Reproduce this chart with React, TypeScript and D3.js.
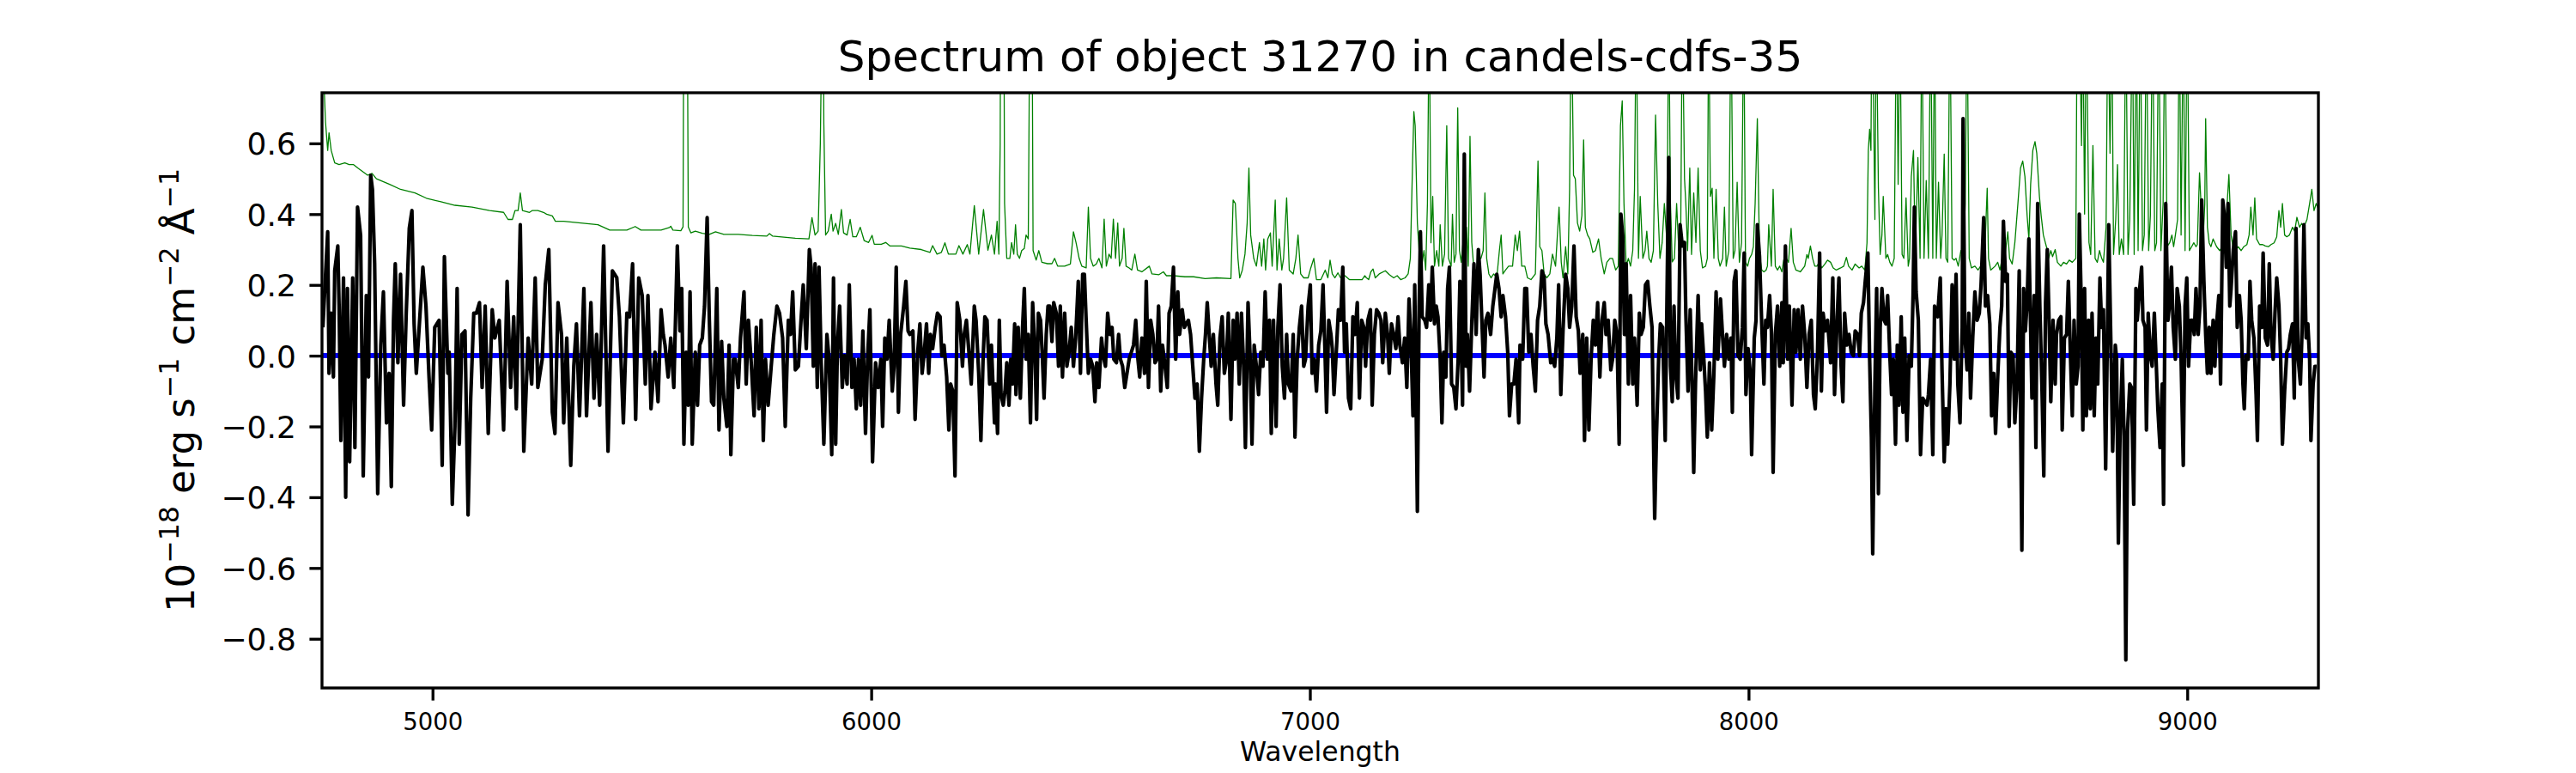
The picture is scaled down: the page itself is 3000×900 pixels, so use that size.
import React, { useEffect, useRef } from 'react';
import * as d3 from 'd3';

type Point = [number, number]; // [wavelength in Angstrom, flux in 1e-18 erg/s/cm2/A]

const fluxA: Point[] = [
    [4750, 0.08], [4761, 0.35], [4764, -0.05], [4769, 0.12], [4774, -0.06], [4777, 0.24], [4784, 0.31], [4787, 0.14], [4791, -0.24], [4797, 0.22],
    [4802, -0.4], [4806, 0.19], [4811, -0.3], [4818, 0.22], [4823, -0.26], [4829, 0.42], [4836, 0.34], [4842, -0.34], [4849, 0.17], [4854, -0.06],
    [4859, 0.51], [4863, 0.47], [4868, 0.26], [4875, -0.39], [4882, 0.03], [4888, 0.18], [4895, -0.19], [4901, -0.05], [4906, -0.37], [4911, 0.1],
    [4915, 0.26], [4921, -0.02], [4927, 0.23], [4934, -0.14], [4940, 0.12], [4947, 0.36], [4953, 0.41], [4958, 0.09], [4963, -0.05], [4970, 0.09],
    [4978, 0.25], [4985, 0.14], [4992, -0.06], [4998, -0.21], [5005, 0.08], [5015, 0.1], [5022, -0.31], [5027, 0.28], [5035, -0.05], [5038, 0.01],
    [5045, -0.42], [5051, -0.2], [5056, 0.19], [5061, -0.25], [5067, 0.06], [5074, 0.07], [5081, -0.45], [5087, -0.12], [5094, 0.12], [5100, 0.12],
    [5107, 0.15], [5113, -0.09], [5120, 0.14], [5127, -0.22], [5136, 0.13], [5142, 0.05], [5152, 0.1], [5162, -0.21], [5170, 0.21], [5178, -0.09],
    [5185, 0.11], [5191, -0.15], [5200, 0.37], [5208, -0.27], [5218, 0.05], [5226, -0.08], [5234, 0.22], [5240, -0.09], [5250, -0.01], [5257, 0.2],
    [5265, 0.3], [5273, -0.16], [5279, -0.22], [5286, 0.15], [5294, 0.06], [5299, -0.19], [5306, 0.05], [5315, -0.31], [5322, -0.03], [5328, 0.09],
    [5335, -0.17], [5345, 0.19], [5351, -0.17], [5361, 0.15], [5368, -0.12], [5374, 0.06], [5381, -0.14], [5390, 0.31], [5400, -0.27], [5410, 0.24],
    [5420, 0.22], [5426, 0.11], [5435, -0.19], [5443, 0.12], [5449, 0.11], [5456, 0.26], [5463, -0.18], [5470, 0.22], [5478, 0.17], [5485, -0.08],
    [5491, 0.17], [5498, -0.15], [5507, 0.01], [5514, -0.13], [5521, 0.13]
];

const fluxB: Point[] = [
    [5526, 0.06], [5530, 0.03], [5537, -0.06], [5543, 0.05], [5550, -0.09], [5558, 0.31], [5564, 0.07], [5568, 0.19], [5573, -0.25], [5578, 0.01],
    [5583, -0.14], [5587, 0.18], [5592, -0.25], [5599, 0.01], [5604, -0.14], [5609, 0.03], [5615, 0.05], [5620, 0.14], [5626, 0.39], [5631, 0.1],
    [5636, -0.13], [5641, -0.14], [5648, 0.19], [5653, -0.21], [5659, 0.04], [5664, -0.12], [5671, -0.2], [5676, 0.03], [5680, -0.28], [5686, -0.01],
    [5690, -0.01], [5697, -0.09], [5702, 0.05], [5710, 0.18], [5715, -0.08], [5720, 0.1], [5726, -0.01], [5733, -0.17], [5738, 0.08], [5744, -0.15],
    [5749, 0.1], [5754, -0.24], [5759, -0.01], [5765, -0.14], [5772, -0.03], [5778, 0.06], [5785, 0.14], [5791, 0.12], [5798, 0.05], [5804, -0.2],
    [5811, 0.1], [5816, 0.06], [5821, 0.18], [5827, -0.04], [5834, -0.03], [5840, 0.1], [5845, 0.2], [5852, 0.02], [5859, 0.3], [5863, 0.25],
    [5868, -0.03], [5872, 0.26], [5877, -0.09], [5881, 0.25], [5886, -0.02], [5892, -0.25], [5899, 0.06], [5904, -0.01], [5910, -0.28], [5914, 0.22],
    [5919, -0.25], [5923, 0.03], [5928, 0.14], [5934, -0.09], [5939, 0.0], [5945, -0.08], [5950, 0.2], [5956, -0.09], [5961, -0.01], [5966, -0.15],
    [5971, -0.01], [5976, -0.14], [5981, 0.07], [5987, -0.22], [5992, 0.0], [5997, 0.13], [6003, -0.3], [6010, -0.02], [6016, -0.09], [6022, -0.01],
    [6026, -0.2], [6031, 0.05], [6036, -0.01], [6041, 0.1], [6048, -0.1], [6052, -0.03], [6057, 0.25], [6062, -0.16], [6067, 0.06], [6074, 0.14],
    [6079, 0.21], [6084, 0.07], [6088, 0.06], [6095, 0.07], [6100, -0.18], [6106, 0.01], [6111, 0.09], [6116, -0.05], [6121, 0.01], [6126, 0.09],
    [6131, -0.05], [6135, 0.06], [6140, 0.02], [6146, 0.08], [6151, 0.12], [6157, 0.11], [6161, 0.0], [6166, 0.03], [6172, -0.06], [6177, -0.21],
    [6181, -0.08], [6186, -0.1], [6191, -0.34], [6196, 0.15], [6202, 0.1], [6208, -0.03], [6212, 0.06], [6217, 0.1], [6224, -0.01], [6228, -0.08],
    [6235, 0.14], [6239, 0.1], [6245, -0.05], [6250, -0.24], [6255, -0.01], [6259, 0.11], [6264, 0.1], [6270, -0.08], [6274, 0.03], [6281, -0.19]
];

const fluxC: Point[] = [
    [6283, -0.08], [6288, -0.22], [6292, 0.1], [6296, -0.11], [6301, -0.14], [6305, -0.1], [6309, -0.02], [6314, -0.14], [6318, -0.01], [6322, -0.08],
    [6327, 0.09], [6330, -0.11], [6335, 0.08], [6340, -0.12], [6345, 0.08], [6349, 0.19], [6353, -0.01], [6358, 0.06], [6363, -0.19], [6368, 0.15],
    [6373, 0.02], [6377, -0.18], [6381, 0.12], [6386, 0.1], [6390, 0.0], [6394, -0.12], [6399, 0.06], [6403, 0.14], [6407, 0.14], [6412, 0.04],
    [6416, 0.15], [6422, 0.12], [6427, -0.03], [6431, 0.14], [6436, -0.06], [6441, 0.12], [6446, -0.03], [6451, 0.01], [6456, 0.08], [6461, -0.03],
    [6466, 0.05], [6472, 0.21], [6477, -0.05], [6482, 0.23], [6486, 0.23], [6490, 0.1], [6495, -0.05], [6500, -0.01], [6505, -0.03], [6510, -0.13],
    [6514, -0.02], [6519, -0.09], [6525, 0.05], [6529, 0.0], [6534, -0.03], [6539, 0.12], [6544, 0.06], [6549, 0.08], [6553, -0.01], [6559, -0.02],
    [6564, 0.06], [6568, -0.01], [6573, -0.03], [6578, -0.09], [6583, -0.05], [6588, -0.01], [6593, 0.01], [6598, 0.03], [6603, 0.1], [6608, -0.01],
    [6612, -0.06], [6617, 0.05], [6623, -0.05], [6627, 0.21], [6632, -0.09], [6637, 0.1], [6642, 0.06], [6647, -0.02], [6651, -0.01], [6655, 0.14],
    [6660, -0.1], [6664, 0.03], [6669, -0.02], [6675, -0.09], [6679, 0.12], [6684, 0.14], [6689, 0.25], [6694, -0.01], [6699, 0.18], [6703, 0.06],
    [6709, 0.13], [6714, 0.08], [6718, 0.09], [6723, 0.1], [6728, 0.06], [6733, -0.03], [6738, -0.12], [6743, -0.08], [6748, -0.27], [6753, -0.12],
    [6758, -0.01], [6762, 0.06], [6766, 0.15], [6771, 0.05], [6775, -0.03], [6780, 0.06], [6786, -0.08], [6790, -0.14], [6795, 0.05], [6800, 0.11],
    [6805, -0.05], [6810, -0.01], [6814, 0.12], [6820, -0.18], [6825, 0.1], [6829, -0.01], [6834, 0.12], [6839, -0.08], [6844, 0.12], [6849, -0.03],
    [6853, -0.26], [6859, 0.15], [6864, -0.01], [6868, -0.25], [6873, 0.03], [6878, -0.03], [6883, -0.11], [6888, 0.01], [6893, -0.03], [6898, 0.18],
    [6903, -0.01], [6908, 0.1], [6912, -0.22], [6917, 0.1], [6923, -0.2], [6927, 0.08], [6932, 0.2], [6937, -0.03], [6942, -0.12], [6947, 0.06],
    [6951, -0.08], [6957, -0.1], [6962, 0.06], [6966, -0.23], [6971, -0.01], [6976, 0.08], [6981, 0.14], [6986, -0.03], [6990, -0.01], [6996, 0.14],
    [7001, 0.2], [7005, -0.05], [7010, -0.01], [7015, -0.1], [7020, 0.03], [7025, 0.07], [7030, 0.2], [7034, 0.03], [7038, -0.16], [7043, 0.1],
    [7048, 0.06]
];

const fluxD: Point[] = [
    [7051, 0.02], [7055, -0.11], [7061, 0.03], [7065, 0.13], [7070, 0.1], [7075, 0.25], [7079, 0.01], [7083, 0.09], [7088, -0.12],
    [7093, -0.15], [7098, 0.11], [7103, 0.06], [7108, 0.15], [7113, -0.12], [7118, 0.1], [7123, 0.08], [7127, -0.03], [7132, 0.1], [7138, 0.13],
    [7142, -0.14], [7147, 0.06], [7152, 0.13], [7157, 0.12], [7162, 0.1], [7166, -0.02], [7172, 0.12], [7177, 0.06], [7181, -0.05], [7186, 0.09],
    [7191, 0.06], [7196, 0.02], [7201, 0.11], [7205, 0.03], [7211, -0.02], [7216, 0.05], [7221, -0.09], [7226, 0.16], [7230, 0.06], [7235, -0.17],
    [7239, 0.2], [7245, -0.44], [7249, 0.14], [7252, 0.35], [7256, 0.11], [7262, 0.1], [7266, 0.08], [7271, 0.2], [7275, 0.1], [7279, 0.25],
    [7284, 0.09], [7288, 0.14], [7292, 0.11], [7297, -0.01], [7301, -0.19], [7305, 0.01], [7310, -0.06], [7314, 0.19], [7318, 0.25], [7323, -0.08],
    [7328, -0.09], [7333, -0.15], [7338, -0.01], [7342, 0.21], [7348, -0.14], [7352, 0.57], [7356, -0.03], [7359, 0.06], [7364, -0.1], [7369, 0.09],
    [7374, 0.26], [7379, 0.06], [7384, 0.3], [7388, 0.23], [7392, 0.1], [7397, -0.06], [7401, 0.1], [7406, 0.12], [7412, 0.06], [7417, 0.14],
    [7421, 0.18], [7426, 0.23], [7431, 0.19], [7436, 0.11], [7440, 0.17], [7446, 0.11], [7451, 0.01], [7455, -0.17], [7460, -0.08], [7465, -0.08],
    [7470, -0.01], [7476, -0.19], [7479, 0.03], [7485, -0.01], [7490, 0.19], [7494, 0.19], [7499, 0.01], [7504, 0.06], [7509, -0.03], [7514, -0.1],
    [7519, 0.1], [7524, 0.14], [7529, 0.24], [7534, 0.22], [7538, 0.09], [7543, 0.06], [7549, -0.02], [7553, -0.01], [7558, -0.03], [7563, 0.05],
    [7567, 0.2], [7572, -0.11], [7577, 0.07], [7583, 0.23], [7588, 0.19], [7592, 0.08], [7597, 0.14], [7602, 0.31], [7607, 0.11], [7612, 0.07],
    [7616, -0.05], [7622, 0.06], [7626, -0.24], [7631, 0.05], [7636, -0.21], [7641, -0.01], [7646, 0.1], [7651, 0.03], [7656, 0.15], [7661, -0.06],
    [7666, 0.1], [7671, 0.15], [7675, 0.06], [7680, 0.1], [7686, -0.04], [7690, -0.01], [7695, 0.1], [7700, 0.06], [7705, -0.25], [7709, 0.4],
    [7713, 0.34], [7717, 0.06], [7721, 0.26], [7726, -0.08], [7731, 0.17], [7736, -0.08], [7740, 0.05], [7746, -0.14], [7751, 0.12], [7755, 0.06],
    [7760, 0.08], [7765, 0.2], [7770, 0.21], [7775, 0.14], [7780, 0.08], [7783, -0.21], [7786, -0.46], [7790, -0.23], [7795, -0.01], [7799, 0.09],
    [7804, 0.08], [7810, -0.24]
];

const fluxE: Point[] = [
    [7818, 0.56], [7822, -0.03], [7826, -0.13], [7830, 0.14], [7834, -0.05], [7839, -0.12], [7844, 0.37], [7849, 0.31],
    [7854, 0.32], [7857, 0.12], [7862, -0.1], [7867, 0.13], [7870, -0.01], [7875, -0.33], [7879, -0.08], [7885, 0.17], [7890, -0.04], [7893, 0.09],
    [7898, -0.01], [7902, -0.1], [7906, -0.23], [7911, -0.02], [7916, -0.21], [7921, -0.05], [7926, 0.18], [7930, -0.01], [7936, 0.16], [7941, 0.05],
    [7945, -0.03], [7950, 0.06], [7955, -0.01], [7960, 0.05], [7963, -0.16], [7967, 0.21], [7971, 0.24], [7976, 0.0], [7981, -0.01], [7986, 0.08],
    [7990, 0.29], [7994, -0.11], [7999, 0.02], [8004, -0.05], [8007, -0.28], [8013, 0.05], [8017, 0.1], [8020, 0.37], [8025, 0.28], [8030, 0.09],
    [8035, -0.08], [8039, 0.1], [8043, 0.08], [8048, 0.17], [8052, 0.07], [8056, -0.33], [8061, 0.06], [8066, 0.14], [8071, -0.03], [8076, 0.15],
    [8079, -0.02], [8084, 0.31], [8089, -0.01], [8093, 0.14], [8099, -0.14], [8104, 0.13], [8108, 0.01], [8113, 0.13], [8118, -0.01], [8123, 0.14],
    [8128, 0.06], [8133, -0.09], [8138, 0.06], [8143, 0.1], [8148, -0.11], [8152, -0.15], [8157, 0.0], [8162, 0.29], [8166, -0.1], [8170, 0.12],
    [8175, 0.07], [8180, 0.1], [8183, 0.05], [8187, -0.02], [8192, 0.22], [8196, -0.11], [8202, 0.11], [8206, 0.22], [8211, -0.03], [8215, -0.13],
    [8219, 0.12], [8224, 0.03], [8229, 0.06], [8234, 0.01], [8239, 0.0], [8243, 0.07], [8249, 0.06], [8253, 0.0], [8257, 0.12], [8262, 0.15],
    [8266, 0.21], [8272, 0.29], [8276, -0.01], [8280, -0.23], [8283, -0.56], [8288, -0.08], [8292, 0.19], [8296, -0.39], [8300, 0.08], [8304, 0.19],
    [8309, 0.1], [8313, 0.09], [8317, 0.17], [8322, 0.0], [8326, -0.11], [8330, -0.01], [8335, -0.25], [8339, 0.03], [8343, -0.14], [8348, 0.11],
    [8352, -0.16], [8356, 0.05], [8361, -0.24], [8366, 0.0], [8371, -0.03], [8375, 0.17], [8378, 0.42], [8382, 0.18], [8387, 0.1], [8392, -0.28],
    [8397, -0.12], [8402, -0.13], [8407, -0.14], [8410, -0.11], [8415, -0.01], [8420, -0.28], [8424, 0.14], [8428, 0.12], [8431, 0.11], [8437, 0.22],
    [8441, -0.04], [8446, -0.3], [8450, -0.15], [8454, -0.25], [8459, -0.08], [8464, 0.2], [8469, -0.01], [8473, 0.23], [8477, -0.08], [8482, -0.19],
    [8487, 0.08], [8489, 0.67], [8493, 0.06], [8498, -0.04], [8502, 0.12], [8506, -0.12], [8511, 0.05], [8516, 0.18], [8521, 0.1], [8526, 0.12],
    [8530, 0.2], [8536, 0.39], [8540, 0.14], [8545, 0.17], [8550, 0.09], [8554, -0.17], [8559, -0.05], [8563, -0.22], [8568, -0.06], [8573, 0.08]
];

const fluxF: Point[] = [
    [8577, 0.14], [8581, 0.38], [8586, 0.21], [8590, 0.23], [8594, -0.2], [8598, 0.01], [8603, 0.0], [8607, -0.19], [8612, -0.08],
    [8617, 0.24], [8620, -0.17], [8623, -0.55], [8627, 0.19], [8631, 0.07], [8635, 0.15], [8639, 0.33], [8642, 0.14], [8646, -0.12], [8651, 0.17],
    [8655, -0.26], [8659, 0.43], [8664, 0.14], [8669, -0.1], [8673, -0.34], [8677, 0.15], [8681, 0.3], [8685, 0.1], [8689, -0.13], [8694, 0.1],
    [8699, -0.08], [8702, 0.06], [8707, 0.1], [8712, 0.11], [8715, -0.21], [8720, 0.05], [8725, 0.06], [8729, 0.21], [8734, -0.01], [8738, -0.17],
    [8742, 0.1], [8747, -0.08], [8751, -0.03], [8754, 0.4], [8758, 0.17], [8762, -0.21], [8766, 0.19], [8770, -0.17], [8775, 0.1], [8779, -0.15],
    [8783, 0.12], [8788, -0.17], [8792, 0.05], [8796, -0.08], [8801, 0.22], [8805, 0.08], [8809, 0.13], [8814, -0.32], [8818, 0.06], [8821, 0.37],
    [8826, 0.03], [8830, -0.27], [8836, 0.03], [8839, -0.01], [8843, -0.53], [8847, -0.21], [8852, -0.01], [8856, -0.23], [8860, -0.86], [8864, -0.21],
    [8869, -0.08], [8873, -0.09], [8878, -0.42], [8883, 0.19], [8886, 0.1], [8891, 0.18], [8896, 0.25], [8899, 0.1], [8904, 0.08], [8907, -0.21],
    [8911, 0.12], [8916, 0.0], [8920, -0.03], [8925, 0.12], [8929, -0.01], [8933, -0.15], [8938, -0.26], [8943, -0.08], [8946, -0.42], [8951, 0.43],
    [8956, 0.1], [8960, 0.15], [8964, 0.25], [8968, 0.08], [8973, -0.01], [8977, 0.19], [8982, 0.14], [8986, -0.01], [8991, -0.31], [8995, 0.14],
    [8999, 0.22], [9003, -0.03], [9008, 0.1], [9012, 0.1], [9016, 0.06], [9020, 0.19], [9025, 0.06], [9029, 0.14], [9033, 0.44], [9038, 0.21],
    [9042, 0.06], [9046, -0.05], [9050, 0.08], [9054, -0.05], [9059, 0.1], [9063, -0.03], [9067, 0.09], [9072, 0.17], [9076, -0.08], [9081, 0.44],
    [9085, 0.39], [9089, 0.25], [9093, 0.43], [9097, 0.14], [9100, 0.19], [9105, 0.3], [9110, 0.35], [9114, 0.08], [9119, 0.17], [9123, 0.1],
    [9127, -0.08], [9130, -0.15], [9134, 0.0], [9139, -0.01], [9143, 0.21], [9147, 0.1], [9152, 0.05], [9157, -0.11], [9160, -0.24], [9165, 0.14],
    [9170, 0.08], [9173, 0.29], [9178, 0.05], [9183, 0.03], [9187, 0.26], [9191, 0.06], [9196, -0.01], [9200, 0.12], [9204, 0.22], [9209, 0.14],
    [9213, -0.01], [9217, -0.25], [9222, -0.1], [9227, 0.01], [9231, 0.02], [9235, 0.06], [9240, 0.09], [9244, -0.12], [9248, 0.36], [9253, -0.01],
    [9258, -0.08], [9262, 0.08], [9266, 0.37], [9271, 0.05], [9275, 0.09], [9279, -0.01], [9282, -0.24], [9287, -0.08], [9291, -0.03], [9295, -0.03]
];

// Noise / sky spectrum (green); values above the axis top are sky lines that get clipped
const noiseA: Point[] = [
    [4750, 0.85], [4756, 0.66], [4761, 0.58], [4764, 0.63], [4769, 0.58], [4777, 0.545], [4787, 0.54], [4800, 0.545], [4810, 0.54], [4820, 0.54],
    [4830, 0.53], [4852, 0.51], [4862, 0.515], [4872, 0.5], [4901, 0.485], [4927, 0.47], [4960, 0.46], [4986, 0.445], [5019, 0.435], [5051, 0.425],
    [5090, 0.42], [5130, 0.41], [5162, 0.405], [5172, 0.385], [5182, 0.385], [5188, 0.41], [5195, 0.41], [5200, 0.46], [5205, 0.41], [5221, 0.405],
    [5227, 0.41], [5240, 0.41], [5253, 0.405], [5260, 0.4], [5273, 0.395], [5280, 0.38], [5299, 0.38], [5338, 0.375], [5377, 0.37], [5404, 0.355],
    [5443, 0.355], [5462, 0.365], [5475, 0.355]
];

const noiseB: Point[] = [
    [5521, 0.355], [5540, 0.362], [5543, 0.366], [5548, 0.355], [5566, 0.353], [5571, 0.364], [5574, 1.5], [5579, 1.5], [5583, 0.364], [5589, 0.347],
    [5599, 0.352], [5615, 0.346], [5631, 0.343], [5645, 0.35], [5664, 0.343], [5697, 0.343], [5729, 0.34], [5762, 0.338], [5768, 0.345], [5775, 0.338],
    [5827, 0.332], [5858, 0.33], [5865, 0.39], [5872, 0.341], [5879, 0.352], [5884, 0.6], [5888, 1.0], [5891, 0.9], [5892, 0.655], [5896, 0.341],
    [5902, 0.352], [5909, 0.4], [5913, 0.352], [5919, 0.374], [5925, 0.343], [5932, 0.413], [5937, 0.347], [5945, 0.341], [5952, 0.385], [5958, 0.336],
    [5966, 0.336], [5975, 0.363], [5984, 0.325], [5994, 0.32], [6002, 0.34], [6007, 0.315], [6023, 0.315], [6033, 0.32], [6043, 0.31], [6069, 0.31],
    [6088, 0.304], [6114, 0.3], [6134, 0.292], [6140, 0.311], [6150, 0.287], [6160, 0.292], [6168, 0.319], [6176, 0.287], [6193, 0.287], [6200, 0.311],
    [6209, 0.287], [6219, 0.314], [6225, 0.287], [6235, 0.424], [6245, 0.287], [6256, 0.413], [6266, 0.298], [6274, 0.341], [6281, 0.287]
];

const noiseC: Point[] = [
    [6287, 0.38], [6291, 0.287], [6294, 0.6], [6296, 1.5], [6301, 1.5], [6304, 0.43], [6309, 0.275], [6316, 0.275], [6320, 0.32], [6325, 0.287],
    [6329, 0.37], [6333, 0.287], [6338, 0.275], [6343, 0.297], [6349, 0.303], [6353, 0.341], [6358, 0.33], [6360, 0.7], [6362, 1.2], [6366, 1.2],
    [6369, 0.297], [6376, 0.27], [6382, 0.297], [6389, 0.264], [6402, 0.26], [6412, 0.26], [6418, 0.275], [6425, 0.253], [6441, 0.253], [6454, 0.259],
    [6461, 0.35], [6467, 0.319], [6474, 0.275], [6480, 0.253], [6490, 0.248], [6495, 0.42], [6500, 0.275], [6506, 0.253], [6513, 0.259], [6519, 0.275],
    [6526, 0.248], [6531, 0.386], [6536, 0.253], [6542, 0.287], [6547, 0.275], [6552, 0.386], [6557, 0.275], [6562, 0.375], [6566, 0.253], [6572, 0.275],
    [6576, 0.36], [6581, 0.253], [6588, 0.248], [6594, 0.242], [6601, 0.287], [6607, 0.242], [6617, 0.237], [6634, 0.253], [6640, 0.231], [6656, 0.229],
    [6666, 0.237], [6673, 0.226], [6689, 0.226], [6715, 0.223], [6735, 0.223], [6761, 0.218], [6787, 0.22], [6820, 0.218], [6825, 0.44], [6830, 0.43],
    [6836, 0.275], [6840, 0.22], [6846, 0.242], [6852, 0.287], [6857, 0.375], [6861, 0.53], [6865, 0.341], [6872, 0.275], [6878, 0.253], [6885, 0.32],
    [6890, 0.253], [6895, 0.33], [6899, 0.242], [6904, 0.33], [6910, 0.347], [6914, 0.253], [6921, 0.44], [6925, 0.242], [6930, 0.33], [6936, 0.242],
    [6940, 0.275], [6947, 0.446], [6953, 0.242], [6962, 0.231], [6968, 0.275], [6973, 0.341], [6979, 0.231], [6986, 0.22], [6996, 0.22], [7002, 0.248],
    [7009, 0.275], [7015, 0.215], [7025, 0.215]
];

const noiseD: Point[] = [
    [7035, 0.242], [7041, 0.22], [7046, 0.27], [7051, 0.231], [7057, 0.22], [7064, 0.234], [7070, 0.22], [7080, 0.226], [7090, 0.215], [7106, 0.215],
    [7119, 0.215], [7125, 0.226], [7129, 0.22], [7134, 0.215], [7139, 0.237], [7144, 0.245], [7149, 0.22], [7158, 0.231], [7172, 0.24], [7181, 0.229],
    [7191, 0.22], [7199, 0.226], [7207, 0.215], [7217, 0.22], [7224, 0.231], [7229, 0.275], [7234, 0.54], [7237, 0.69], [7240, 0.65], [7245, 0.375],
    [7250, 0.275], [7255, 0.253], [7260, 0.297], [7264, 0.242], [7268, 0.43], [7272, 1.0], [7276, 0.319], [7280, 0.45], [7284, 0.253], [7289, 0.297],
    [7294, 0.253], [7297, 0.37], [7302, 0.253], [7307, 0.287], [7312, 0.65], [7316, 0.275], [7322, 0.253], [7325, 0.4], [7329, 0.264], [7333, 0.287],
    [7337, 0.7], [7341, 0.297], [7345, 0.264], [7349, 0.319], [7353, 0.275], [7357, 0.363], [7361, 0.253], [7365, 0.62], [7369, 0.32], [7374, 0.242],
    [7379, 0.242], [7386, 0.275], [7390, 0.275], [7395, 0.297], [7399, 0.46], [7403, 0.275], [7408, 0.231], [7413, 0.22], [7419, 0.231], [7426, 0.22],
    [7432, 0.297], [7436, 0.341], [7440, 0.231], [7446, 0.242], [7453, 0.253], [7462, 0.253], [7468, 0.341], [7473, 0.297], [7478, 0.352], [7483, 0.253],
    [7490, 0.253], [7496, 0.22], [7504, 0.215], [7514, 0.231], [7520, 0.55], [7524, 0.308], [7529, 0.297], [7534, 0.231], [7540, 0.22], [7547, 0.231],
    [7553, 0.287], [7560, 0.253], [7568, 0.42], [7573, 0.264], [7577, 0.22], [7583, 0.308], [7588, 0.231], [7592, 0.47], [7596, 1.0], [7601, 0.51],
    [7605, 0.5], [7610, 0.375], [7615, 0.352], [7620, 0.396], [7624, 0.61], [7628, 0.363], [7633, 0.341], [7638, 0.33], [7645, 0.292], [7651, 0.297],
    [7658, 0.33], [7664, 0.275], [7671, 0.231], [7677, 0.264], [7684, 0.275], [7690, 0.275], [7697, 0.242], [7703, 0.253], [7708, 0.65], [7712, 0.72],
    [7716, 0.43], [7721, 0.253], [7726, 0.275], [7731, 0.253], [7736, 0.297], [7740, 0.47], [7744, 1.0], [7749, 0.275], [7753, 0.45], [7759, 0.275],
    [7764, 0.297], [7768, 0.352], [7773, 0.275], [7778, 0.264], [7783, 0.297], [7788, 0.68], [7793, 0.43], [7798, 0.275], [7803, 0.319], [7808, 0.43]
];

const noiseE: Point[] = [
    [7814, 0.32], [7818, 1.0], [7822, 0.43], [7826, 0.265], [7831, 0.275], [7836, 0.43], [7841, 0.297], [7845, 0.286], [7849, 1.0], [7854, 0.5],
    [7857, 0.43], [7861, 0.297], [7866, 0.53], [7870, 0.286], [7875, 0.46], [7880, 0.32], [7885, 0.53], [7890, 0.297], [7895, 0.248], [7902, 0.253],
    [7906, 0.275], [7909, 1.0], [7913, 0.45], [7917, 0.473], [7921, 0.275], [7926, 0.47], [7931, 0.275], [7935, 0.253], [7941, 0.275], [7945, 0.42],
    [7949, 0.253], [7955, 0.297], [7960, 1.0], [7965, 0.275], [7969, 0.297], [7974, 0.49], [7979, 0.264], [7984, 0.319], [7989, 1.0], [7993, 0.264],
    [7998, 0.253], [8002, 0.275], [8007, 0.286], [8011, 0.308], [8015, 0.43], [8020, 0.67], [8025, 0.286], [8030, 0.242], [8035, 0.237], [8040, 0.242],
    [8043, 0.253], [8046, 0.37], [8052, 0.253], [8056, 0.47], [8061, 0.253], [8066, 0.242], [8071, 0.253], [8076, 0.237], [8080, 0.27], [8086, 0.275],
    [8091, 0.264], [8097, 0.36], [8102, 0.264], [8108, 0.242], [8118, 0.237], [8128, 0.253], [8133, 0.286], [8136, 0.275], [8141, 0.31], [8146, 0.275],
    [8151, 0.253], [8156, 0.253], [8161, 0.264], [8167, 0.248], [8174, 0.259], [8180, 0.27], [8187, 0.264], [8193, 0.248], [8200, 0.242], [8210, 0.248],
    [8217, 0.253], [8223, 0.278], [8228, 0.253], [8236, 0.242], [8243, 0.259], [8252, 0.248], [8258, 0.253], [8265, 0.242], [8270, 0.319], [8273, 0.58],
    [8276, 0.64], [8279, 0.58], [8281, 1.0], [8285, 0.7], [8288, 0.385], [8291, 1.0], [8296, 0.473], [8300, 0.286], [8304, 0.341], [8307, 0.45],
    [8313, 0.275], [8317, 0.286], [8322, 0.264], [8327, 0.253], [8332, 0.275], [8337, 1.0], [8341, 0.484], [8345, 1.0], [8350, 0.286], [8354, 0.275],
    [8359, 0.446], [8364, 0.253], [8367, 0.275], [8371, 0.506], [8376, 0.58], [8380, 0.275], [8386, 0.56], [8391, 0.275], [8395, 1.0], [8400, 0.275],
    [8405, 0.495], [8410, 0.275], [8415, 1.0], [8420, 0.275], [8424, 1.0], [8428, 0.275], [8433, 0.49], [8438, 0.275], [8441, 0.341], [8446, 0.57],
    [8450, 0.275], [8454, 0.264], [8459, 1.0], [8464, 0.275], [8469, 0.27], [8473, 0.275], [8478, 0.253], [8484, 0.297], [8489, 0.275], [8494, 0.43],
    [8498, 1.0], [8503, 0.275], [8508, 0.248], [8516, 0.253], [8523, 0.242], [8529, 0.253], [8536, 0.286], [8540, 0.341], [8544, 0.473], [8547, 0.275],
    [8552, 0.242]
];

const noiseF: Point[] = [
    [8562, 0.253], [8568, 0.264], [8573, 0.242], [8578, 0.275], [8582, 0.253], [8586, 0.297], [8591, 0.35], [8595, 0.275], [8601, 0.259], [8607, 0.319],
    [8614, 0.43], [8620, 0.53], [8625, 0.55], [8630, 0.506], [8635, 0.396], [8639, 0.33], [8643, 0.484], [8648, 0.58], [8653, 0.605], [8657, 0.572],
    [8663, 0.451], [8667, 0.396], [8672, 0.341], [8679, 0.308], [8684, 0.275], [8689, 0.297], [8693, 0.28], [8699, 0.3], [8704, 0.264], [8712, 0.253],
    [8718, 0.264], [8725, 0.259], [8731, 0.27], [8738, 0.264], [8746, 0.275], [8749, 1.0], [8754, 1.0], [8759, 0.594], [8762, 1.0], [8766, 0.4],
    [8770, 1.0], [8776, 0.32], [8780, 0.286], [8785, 0.594], [8790, 0.275], [8795, 0.264], [8800, 0.297], [8805, 0.275], [8809, 0.264], [8815, 0.363],
    [8819, 1.0], [8824, 0.572], [8828, 1.0], [8832, 0.286], [8837, 0.385], [8841, 0.54], [8845, 0.286], [8850, 0.33], [8855, 0.286], [8860, 1.0],
    [8865, 0.286], [8869, 0.385], [8875, 1.0], [8879, 0.286], [8884, 1.0], [8888, 0.297], [8893, 1.0], [8898, 0.297], [8902, 0.341], [8907, 1.0],
    [8912, 0.297], [8916, 0.396], [8921, 1.0], [8926, 0.297], [8930, 0.319], [8935, 1.0], [8940, 0.297], [8945, 0.43], [8949, 1.0], [8954, 0.308],
    [8960, 0.319], [8965, 0.341], [8969, 0.308], [8973, 0.341], [8978, 0.385], [8982, 1.0], [8986, 0.341], [8991, 1.0], [8995, 0.297], [9000, 1.0],
    [9005, 0.297], [9010, 0.308], [9015, 0.319], [9020, 0.308], [9023, 0.314], [9028, 0.517], [9031, 0.44], [9036, 0.319], [9040, 0.43], [9042, 0.67],
    [9046, 0.363], [9050, 0.319], [9054, 0.308], [9059, 0.33], [9063, 0.319], [9067, 0.308], [9074, 0.297], [9080, 0.308], [9087, 0.319], [9091, 0.43],
    [9095, 0.512], [9100, 0.341], [9104, 0.308], [9110, 0.3], [9116, 0.308], [9123, 0.297], [9129, 0.308], [9136, 0.314], [9141, 0.341], [9145, 0.42],
    [9150, 0.341], [9154, 0.446], [9158, 0.33], [9165, 0.314], [9172, 0.314], [9178, 0.31], [9185, 0.308], [9191, 0.314], [9198, 0.319], [9204, 0.336],
    [9209, 0.41], [9213, 0.363], [9217, 0.43], [9222, 0.341], [9227, 0.336], [9233, 0.341], [9240, 0.363], [9245, 0.352], [9250, 0.391], [9256, 0.363],
    [9261, 0.374], [9266, 0.363], [9273, 0.385], [9279, 0.43], [9284, 0.47], [9289, 0.41], [9294, 0.43], [9299, 0.415]
];

// Model continuum (blue): flat at zero
const continuum: Point[] = [[4748, 0], [9299, 0]];

const xTicks = [5000, 6000, 7000, 8000, 9000];
const yTicks = [-0.8, -0.6, -0.4, -0.2, 0.0, 0.2, 0.4, 0.6];
const xDomain: [number, number] = [4748, 9299];
const yDomain: [number, number] = [-0.939, 0.743];

const chartTitle = 'Spectrum of object 31270 in candels-cdfs-35';
const xAxisTitle = 'Wavelength';

const FONT = '"DejaVu Sans", Verdana, sans-serif';

export default function App() {
    const svgRef = useRef<SVGSVGElement>(null);

    useEffect(() => {
        if (!svgRef.current) return;
        const svg = d3.select(svgRef.current);
        svg.selectAll('*').remove();

        // Figure 3000x900, matplotlib default subplot box
        const width = 3000;
        const height = 900;
        const left = 375;
        const right = 2700;
        const top = 108;
        const bottom = 801;
        const spineWidth = 3.33;
        const tickLen = 14.6;

        const x = d3.scaleLinear().domain(xDomain).range([left, right]);
        const y = d3.scaleLinear().domain(yDomain).range([bottom, top]);

        svg.attr('width', width).attr('height', height).attr('viewBox', `0 0 ${width} ${height}`);
        svg.append('rect').attr('width', width).attr('height', height).attr('fill', 'white');

        svg.append('defs')
            .append('clipPath')
            .attr('id', 'plot-area')
            .append('rect')
            .attr('x', left)
            .attr('y', top)
            .attr('width', right - left)
            .attr('height', bottom - top);

        const line = d3
            .line<Point>()
            .x((d) => x(d[0]))
            .y((d) => y(d[1]));

        const plot = svg.append('g').attr('clip-path', 'url(#plot-area)');

        const noise = [...noiseA, ...noiseB, ...noiseC, ...noiseD, ...noiseE, ...noiseF];
        const flux = [...fluxA, ...fluxB, ...fluxC, ...fluxD, ...fluxE, ...fluxF];

        plot.append('path')
            .datum(noise)
            .attr('d', line)
            .attr('fill', 'none')
            .attr('stroke', '#008000')
            .attr('stroke-width', 1.3)
            .attr('stroke-linejoin', 'round');

        plot.append('path')
            .datum(continuum)
            .attr('d', line)
            .attr('fill', 'none')
            .attr('stroke', '#0000ff')
            .attr('stroke-width', 6);

        plot.append('path')
            .datum(flux)
            .attr('d', line)
            .attr('fill', 'none')
            .attr('stroke', '#000000')
            .attr('stroke-width', 4.2)
            .attr('stroke-linejoin', 'round');

        // X axis
        const xAxis = svg
            .append('g')
            .attr('transform', `translate(0,${bottom})`)
            .call(d3.axisBottom(x).tickValues(xTicks).tickSize(tickLen).tickPadding(tickLen).tickFormat(d3.format('d')));
        xAxis.select('.domain').remove();
        xAxis.selectAll('line').attr('stroke', '#000').attr('stroke-width', spineWidth);
        xAxis.selectAll('text').attr('font-size', 27.5).attr('font-family', FONT).attr('fill', '#000');

        // Y axis
        const yAxis = svg
            .append('g')
            .attr('transform', `translate(${left},0)`)
            .call(d3.axisLeft(y).tickValues(yTicks).tickSize(tickLen).tickPadding(tickLen + 1).tickFormat(d3.format('.1f')));
        yAxis.select('.domain').remove();
        yAxis.selectAll('line').attr('stroke', '#000').attr('stroke-width', spineWidth);
        yAxis.selectAll('text').attr('font-size', 36).attr('font-family', FONT).attr('fill', '#000').attr('dy', '0.36em');

        // Axes frame
        svg.append('rect')
            .attr('x', left)
            .attr('y', top)
            .attr('width', right - left)
            .attr('height', bottom - top)
            .attr('fill', 'none')
            .attr('stroke', '#000')
            .attr('stroke-width', spineWidth);

        // Title
        svg.append('text')
            .attr('x', (left + right) / 2)
            .attr('y', 83)
            .attr('text-anchor', 'middle')
            .attr('font-family', FONT)
            .attr('font-size', 50)
            .attr('fill', '#000')
            .text(chartTitle);

        // X axis title
        svg.append('text')
            .attr('x', (left + right) / 2)
            .attr('y', 886)
            .attr('text-anchor', 'middle')
            .attr('font-family', FONT)
            .attr('font-size', 31.5)
            .attr('fill', '#000')
            .text(xAxisTitle);

        // Y axis title with superscripts
        const supSize = 31.5;
        const raise = 18;
        const yTitle = svg
            .append('text')
            .attr('transform', `translate(226,${(top + bottom) / 2}) rotate(-90)`)
            .attr('text-anchor', 'middle')
            .attr('font-family', FONT)
            .attr('font-size', 45)
            .attr('fill', '#000')
            .style('white-space', 'pre');
        const parts: [string, boolean][] = [
            ['10', false],
            ['\u221218', true],
            [' erg s', false],
            ['\u22121', true],
            [' cm', false],
            ['\u22122', true],
            [' \u00c5', false],
            ['\u22121', true]
        ];
        parts.forEach(([txt, sup], i) => {
            const t = yTitle.append('tspan').text(txt);
            if (sup) t.attr('font-size', supSize).attr('dy', -raise);
            else if (i > 0) t.attr('dy', raise);
        });
    }, []);

    return (
        <div style={{ width: 3000, height: 900, background: 'white' }}>
            <style>{`body { margin: 0; }`}</style>
            <svg ref={svgRef} width={3000} height={900} />
        </div>
    );
}
